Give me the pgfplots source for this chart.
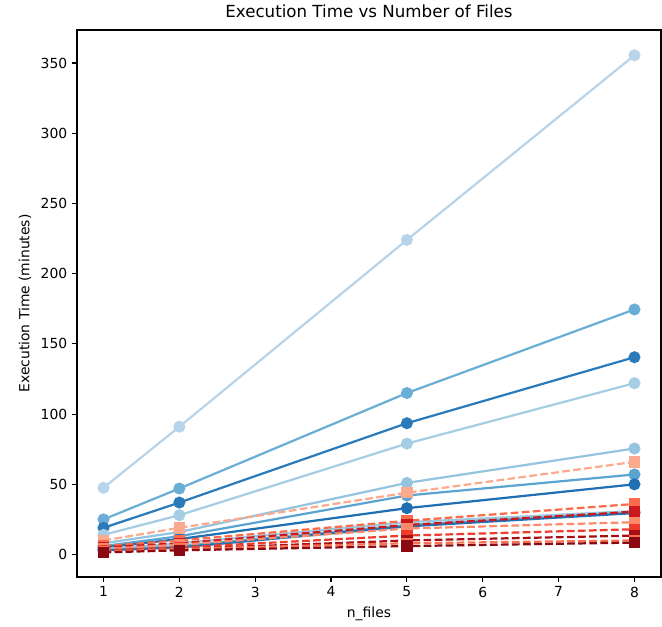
\documentclass[border=0pt]{standalone}
\usepackage{pgfplots}
\pgfplotsset{compat=1.18}
\usepackage{fontspec}
\setmainfont{DejaVu Sans}
\definecolor{bA}{HTML}{B7D4EA}
\definecolor{bB}{HTML}{6AAED6}
\definecolor{bC}{HTML}{2B7BBA}
\definecolor{bD}{HTML}{A5CDE3}
\definecolor{bE}{HTML}{94C4DF}
\definecolor{bF}{HTML}{5BA3D0}
\definecolor{bG}{HTML}{1F6FB2}
\definecolor{bH}{HTML}{9ECAE1}
\definecolor{bI}{HTML}{6AAED6}
\definecolor{bJ}{HTML}{2171B5}
\definecolor{rA}{HTML}{FCAA8E}
\definecolor{rB}{HTML}{FB6A4A}
\definecolor{rC}{HTML}{CB181D}
\definecolor{rD}{HTML}{FC8A6A}
\definecolor{rE}{HTML}{EF3B2C}
\definecolor{rF}{HTML}{A50F15}
\definecolor{rG}{HTML}{FB7050}
\definecolor{rH}{HTML}{8B0A12}
\begin{document}
\begin{tikzpicture}
\begin{axis}[
  name=ax,
  scale only axis,
  width=420.5pt, height=393.8pt,
  xmin=0.65, xmax=8.35, ymin=-16, ymax=373.5,
  xtick={1,2,3,4,5,6,7,8},
  ytick={0,50,100,150,200,250,300,350},
  tick align=outside, tick pos=left,
  major tick length=3.5pt,
  every tick/.style={black, line width=0.8pt},
  axis line style={line width=0.8pt},
  tick label style={font=\fontsize{10}{12}\selectfont},
  /pgf/number format/assume math mode=true,
  title={Execution Time vs Number of Files},
  title style={font=\fontsize{12}{14}\selectfont, yshift=-1pt},
  xlabel={n\_files}, ylabel={Execution Time (minutes)},
  label style={font=\fontsize{10}{12}\selectfont},
  every axis plot/.append style={line width=1.6pt},
  bl/.style={solid, mark=*, mark size=3.5pt, mark options={solid}},
  rd/.style={dash pattern=on 5.55pt off 2.4pt, mark=square*, mark size=3.3pt, mark options={solid}},
]
\addplot[bA, bl] coordinates {(1,47.5) (2,91) (5,224) (8,355.5)};
\addplot[bB, bl] coordinates {(1,25) (2,47) (5,115) (8,174.5)};
\addplot[bC, bl] coordinates {(1,19) (2,37) (5,93.5) (8,140.5)};
\addplot[bD, bl] coordinates {(1,14) (2,28) (5,79) (8,122)};
\addplot[bE, bl] coordinates {(1,8) (2,16) (5,51) (8,75.5)};
\addplot[bF, bl] coordinates {(1,6) (2,13) (5,42) (8,57)};
\addplot[bG, bl] coordinates {(1,5) (2,11) (5,33) (8,50)};
\addplot[bH, bl] coordinates {(1,4) (2,8) (5,23) (8,31)};
\addplot[bI, bl] coordinates {(1,3) (2,6) (5,21) (8,30)};
\addplot[bJ, bl] coordinates {(1,3) (2,5) (5,20) (8,29.5)};
\addplot[rA, rd] coordinates {(1,10) (2,19) (5,44) (8,66)};
\addplot[rB, rd] coordinates {(1,6) (2,10) (5,24) (8,36)};
\addplot[rC, rd] coordinates {(1,5) (2,8) (5,21) (8,30.5)};
\addplot[rD, rd] coordinates {(1,4) (2,7) (5,18.5) (8,23)};
\addplot[rE, rd] coordinates {(1,3) (2,5) (5,13.5) (8,18)};
\addplot[rF, rd] coordinates {(1,2) (2,4) (5,10) (8,13.5)};
\addplot[rG, rd] coordinates {(1,2) (2,4) (5,8) (8,10)};
\addplot[rH, rd] coordinates {(1,1.5) (2,3) (5,6) (8,8.5)};
\end{axis}
\pgfresetboundingbox
\path[use as bounding box] ([shift={(-55.4pt,-36pt)}]ax.south west) rectangle ([shift={(0.72pt,21.6pt)}]ax.north east);
\end{tikzpicture}
\end{document}
